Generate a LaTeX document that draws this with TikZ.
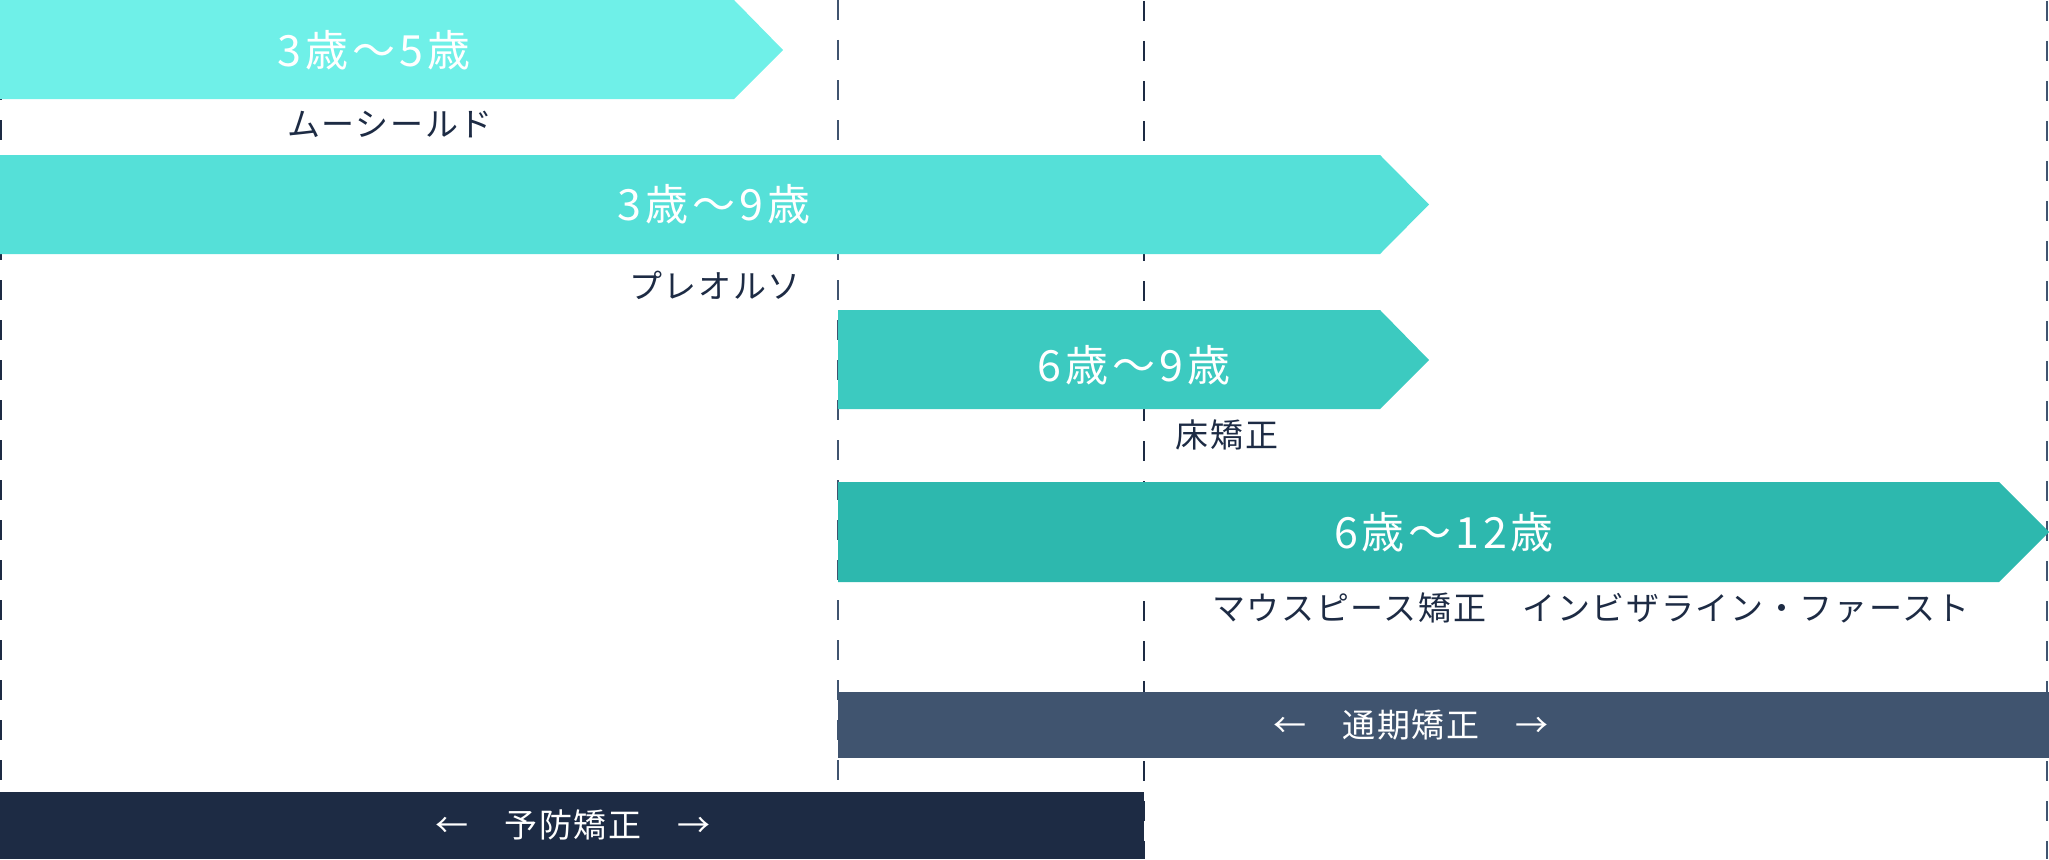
\documentclass[tikz,border=0pt]{standalone}
\usepackage{fontspec}
\setmainfont{Noto Sans CJK JP}
\newfontfamily\agefont{Noto Sans CJK JP}[LetterSpace=9]
\newfontfamily\lblfont{Noto Sans CJK JP}[LetterSpace=5]
\definecolor{cA}{HTML}{6FF0E8}
\definecolor{cB}{HTML}{55E0D8}
\definecolor{cC}{HTML}{3CCAC0}
\definecolor{cD}{HTML}{2DB8AE}
\definecolor{navyL}{HTML}{40546F}
\definecolor{navyD}{HTML}{1D2B44}
\tikzset{
  guide/.style={line width=2pt, dash pattern=on 20pt off 20pt},
  agetxt/.style={text=white, inner sep=0pt, font=\agefont\fontsize{43}{47}\selectfont},
  lbltxt/.style={text=navyD, inner sep=0pt, font=\lblfont\fontsize{33}{37}\selectfont},
  bartxt/.style={text=white, inner sep=0pt, font=\lblfont\fontsize{33}{37}\selectfont},
}
\begin{document}
\begin{tikzpicture}[x=1pt,y=-1pt]
\useasboundingbox (0,0) rectangle (2049,859);
% guide lines
\coordinate (g1t) at (1,0);    \coordinate (g1b) at (1,859);
\coordinate (g2t) at (838,0);  \coordinate (g2b) at (838,859);
\coordinate (g3t) at (1144,1); \coordinate (g3b) at (1144,859);
\coordinate (g4t) at (2047,1); \coordinate (g4b) at (2047,859);
\draw[guide, navyD] (g1t) -- (g1b);
\draw[guide, navyL] (g2t) -- (g2b);
\draw[guide, navyD] (g3t) -- (g3b);
\draw[guide, navyL] (g4t) -- (g4b);
% arrows
\fill[cA] (0,0) -- (734,0) -- (783,50) -- (734,99) -- (0,99) -- cycle;
\fill[cB] (0,155) -- (1380,155) -- (1429,204.5) -- (1380,254) -- (0,254) -- cycle;
\fill[cC] (838,310) -- (1380,310) -- (1429,360) -- (1380,409) -- (838,409) -- cycle;
\fill[cD] (838,482) -- (1999,482) -- (2049,532) -- (1999,582) -- (838,582) -- cycle;
% bars
\fill[navyL] (838,692) rectangle (2049,758);
\fill[navyD] (0,792) rectangle (1144,859);
% texts
\node[agetxt] (a1) at (374,50) {3歳〜5歳};
\node[lbltxt] (l1) at (390,125) {ムーシールド};
\node[agetxt] (a2) at (714,204.5) {3歳〜9歳};
\node[lbltxt] (l2) at (715,285) {プレオルソ};
\node[agetxt] (a3) at (1134,365) {6歳〜9歳};
\node[lbltxt] (l3) at (1227,435) {床矯正};
\node[agetxt] (a4) at (1444,532) {6歳〜12歳};
\node[lbltxt] (l4) at (1591,608) {マウスピース矯正　インビザライン・ファースト};
\node[bartxt] (b1) at (1411,725) {←　通期矯正　→};
\node[bartxt] (b2) at (573,825) {←　予防矯正　→};
\end{tikzpicture}
\end{document}
